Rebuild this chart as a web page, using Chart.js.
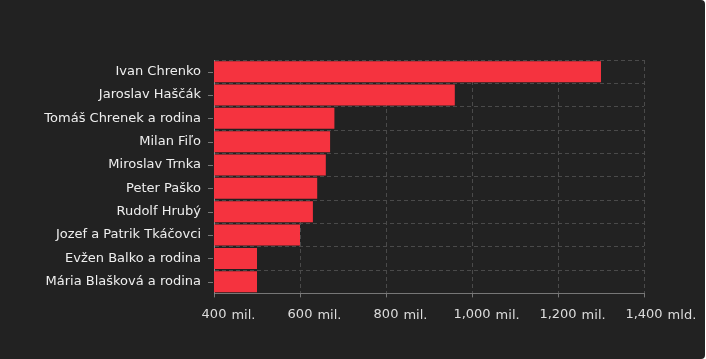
<!DOCTYPE html>
<html>
<head>
<meta charset="utf-8">
<script src="https://cdn.jsdelivr.net/npm/chart.js@4/dist/chart.umd.min.js"></script>
<style>
  html, body { margin: 0; padding: 0; background: #ffffff; }
  #wrap { width: 705px; height: 359px; background: #222222; border-radius: 0 4px 4px 0; overflow: hidden; }
  canvas { display: block; }
</style>
</head>
<body>
<div id="wrap"><canvas id="c" width="705" height="359"></canvas></div>
<script>
const categories = [
  "Ivan Chrenko",
  "Jaroslav Haščák",
  "Tomáš Chrenek a rodina",
  "Milan Fiľo",
  "Miroslav Trnka",
  "Peter Paško",
  "Rudolf Hrubý",
  "Jozef a Patrik Tkáčovci",
  "Evžen Balko a rodina",
  "Mária Blašková a rodina"
];
const values = [1300, 960, 680, 670, 660, 640, 630, 600, 500, 500];
const tickValues = [400, 600, 800, 1000, 1200, 1400];
const tickNumbers = ["400", "600", "800", "1,000", "1,200", "1,400"];
const tickUnits = ["mil.", "mil.", "mil.", "mil.", "mil.", "mld."];

const FONT = "'DejaVu Sans', Verdana, sans-serif";

const extras = {
  id: 'extras',
  afterDraw(chart) {
    const ctx = chart.ctx;
    const y = chart.scales.y, x = chart.scales.x;
    ctx.save();
    ctx.strokeStyle = '#777777';
    ctx.lineWidth = 1;
    categories.forEach((c, i) => {
      const py = Math.round(y.getPixelForTick(i)) + 0.5;
      ctx.beginPath();
      ctx.moveTo(x.left - 6, py);
      ctx.lineTo(x.left - 1, py);
      ctx.stroke();
    });
    ctx.font = "13px " + FONT;
    ctx.fillStyle = '#dddddd';
    ctx.textBaseline = 'middle';
    ctx.textAlign = 'left';
    tickValues.forEach((v, i) => {
      const px = x.getPixelForValue(v);
      const w = ctx.measureText(tickNumbers[i]).width;
      ctx.fillText(tickUnits[i], px + w / 2 + 5, x.bottom - 15.5);
    });
    ctx.restore();
  }
};

new Chart(document.getElementById('c'), {
  type: 'bar',
  data: {
    labels: categories,
    datasets: [{
      data: values,
      backgroundColor: '#f5333f',
      borderWidth: 0,
      barPercentage: 0.9,
      categoryPercentage: 1.0
    }]
  },
  options: {
    indexAxis: 'y',
    responsive: false,
    animation: false,
    layout: { padding: { top: 60, right: 61, bottom: 28, left: 0 } },
    plugins: { legend: { display: false }, tooltip: { enabled: false } },
    scales: {
      x: {
        type: 'linear',
        min: 400,
        max: 1400,
        afterBuildTicks(scale) { scale.ticks = tickValues.map(v => ({ value: v })); },
        ticks: {
          color: '#dddddd',
          font: { family: FONT, size: 13 },
          padding: 9,
          maxRotation: 0,
          autoSkip: false,
          callback(v) { const i = tickValues.indexOf(v); return i >= 0 ? tickNumbers[i] : ''; }
        },
        grid: {
          color: '#4a4a4a',
          lineWidth: 1,
          drawTicks: true,
          tickLength: 4,
          tickColor: '#777777'
        },
        border: { display: true, color: '#777777', width: 1, dash: [4, 3] }
      },
      y: {
        afterFit(scale) { scale.width = 214; },
        ticks: {
          color: '#eeeeee',
          font: { family: FONT, size: 13 },
          padding: 13,
          autoSkip: false
        },
        grid: {
          color: '#4a4a4a',
          lineWidth: 1,
          drawTicks: false,
          offset: true
        },
        border: { display: true, color: '#888888', width: 1, dash: [4, 3] }
      }
    }
  },
  plugins: [extras]
});
</script>
</body>
</html>
